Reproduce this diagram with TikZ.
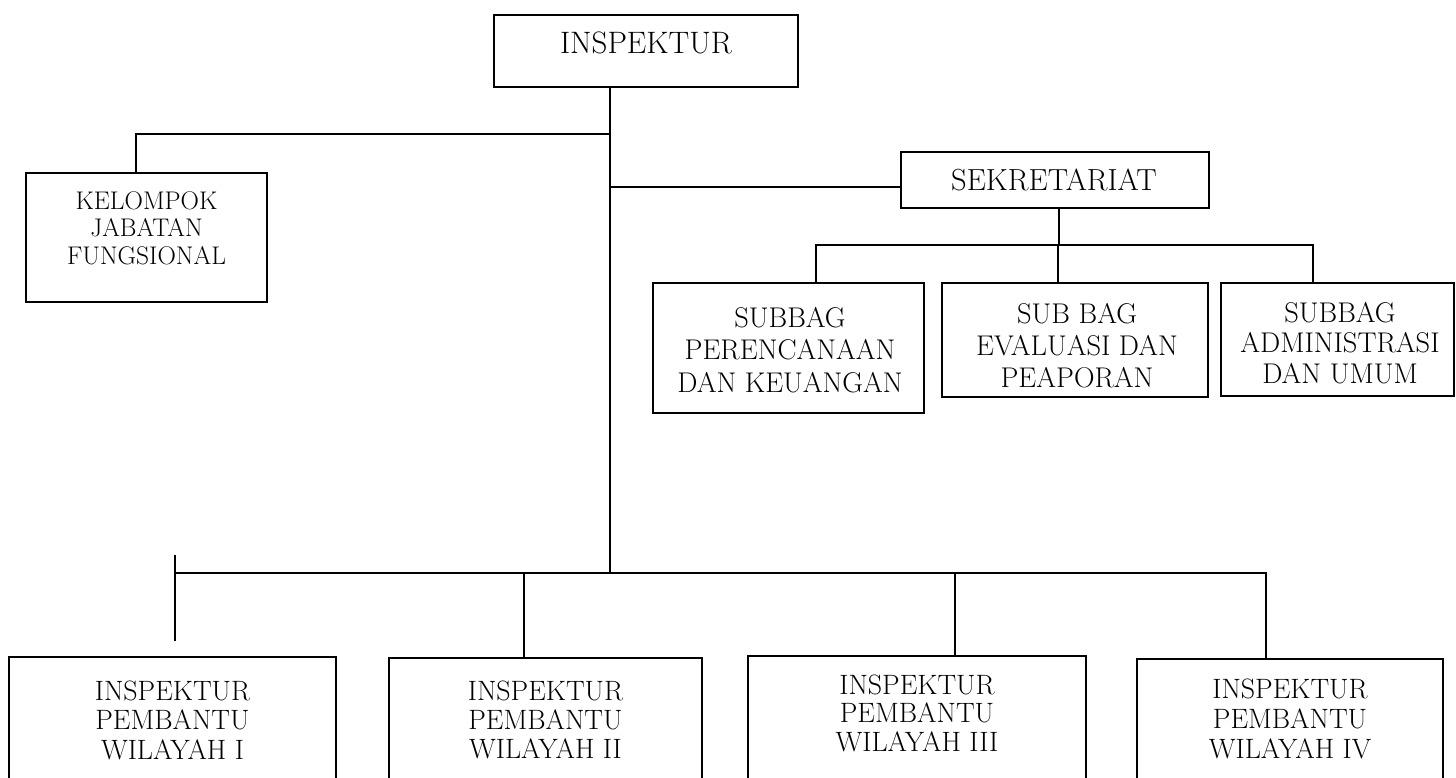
\documentclass[tikz,border=0pt]{standalone}
\usepackage{fontspec}
\begin{document}
\begin{tikzpicture}[x=1pt,y=-1pt,
  box/.style={draw,line width=1.6pt,inner sep=0pt,minimum width=#1},
  lbl/.style={inner sep=0pt,align=center,font=\fontsize{28}{30}\selectfont},
  conn/.style={line width=1.6pt}]
\useasboundingbox (0,0) rectangle (1456,777);
\clip (0,0) rectangle (1456,777);
% boxes
\node[box=304,minimum height=72] (top) at (646,51) {};
\node[box=241,minimum height=129] (kel) at (146.5,237.5) {};
\node[box=308,minimum height=56] (sek) at (1055,180) {};
\node[box=271,minimum height=130] (sb1) at (788.5,348) {};
\node[box=266,minimum height=114] (sb2) at (1075,340) {};
\node[box=233,minimum height=113] (sb3) at (1337.5,339.5) {};
\node[box=327,minimum height=160] (b1) at (172.5,737) {};
\node[box=313,minimum height=160] (b2) at (545.5,738) {};
\node[box=338,minimum height=160] (b3) at (917,736) {};
\node[box=306,minimum height=160] (b4) at (1290,739) {};
% texts
\node[lbl,font=\fontsize{31}{34}\selectfont] (ttop) at (646,42.5) {INSPEKTUR};
\node[lbl,font=\fontsize{25.5}{27.5}\selectfont] (tkel) at (146.5,228) {KELOMPOK\\JABATAN\\FUNGSIONAL};
\node[lbl,font=\fontsize{30.5}{32}\selectfont] (tsek) at (1054,180) {SEKRETARIAT};
\node[lbl,font=\fontsize{28.5}{32.5}\selectfont] (tsb1) at (790,350) {SUBBAG\\PERENCANAAN\\DAN KEUANGAN};
\node[lbl,font=\fontsize{28.5}{32}\selectfont] (tsb2) at (1077,346) {SUB BAG\\EVALUASI DAN\\PEAPORAN};
\node[lbl,font=\fontsize{28.5}{30.5}\selectfont] (tsb3) at (1340,343) {SUBBAG\\ADMINISTRASI\\DAN UMUM};
\node[lbl,font=\fontsize{28}{29.5}\selectfont] (tb1) at (172.5,720) {INSPEKTUR\\PEMBANTU\\WILAYAH I};
\node[lbl,font=\fontsize{28}{29}\selectfont] (tb2) at (545.5,720) {INSPEKTUR\\PEMBANTU\\WILAYAH II};
\node[lbl,font=\fontsize{28}{28.5}\selectfont] (tb3) at (917,713) {INSPEKTUR\\PEMBANTU\\WILAYAH III};
\node[lbl,font=\fontsize{28}{30}\selectfont] (tb4) at (1290,719) {INSPEKTUR\\PEMBANTU\\WILAYAH IV};
% junction coordinates
\coordinate (spine) at (610,573);
\coordinate (kj) at (610,134);
\coordinate (kd) at (136,134);
\coordinate (sj) at (610,187);
\coordinate (sh) at (1059,245);
\coordinate (s1) at (816,245);
\coordinate (s2) at (1058,245);
\coordinate (s3) at (1313,245);
\coordinate (stubtop) at (175,555);
\coordinate (stubbot) at (175,641);
\coordinate (bL) at (175,573);
\coordinate (j2) at (524,573);
\coordinate (j3) at (955,573);
\coordinate (j4) at (1266,573);
% connectors
\draw[conn] (top.south -| spine) -- (spine);
\draw[conn] (kj) -- (kd) -- (kd |- kel.north);
\draw[conn] (sj) -- (sj -| sek.west);
\draw[conn] (sh |- sek.south) -- (sh);
\draw[conn] (s1 |- sb1.north) -- (s1) -- (s3) -- (s3 |- sb3.north);
\draw[conn] (s2) -- (s2 |- sb2.north);
\draw[conn] (stubtop) -- (stubbot);
\draw[conn] (bL) -- (j4) -- (j4 |- b4.north);
\draw[conn] (j2) -- (j2 |- b2.north);
\draw[conn] (j3) -- (j3 |- b3.north);
\end{tikzpicture}
\end{document}
